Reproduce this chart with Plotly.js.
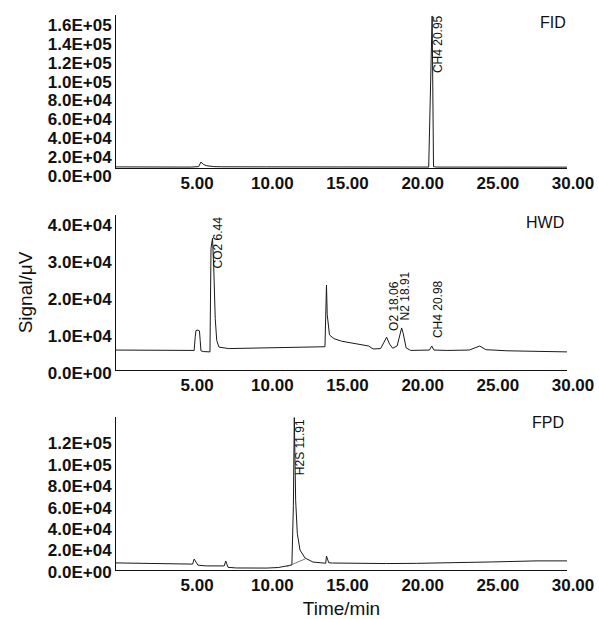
<!DOCTYPE html>
<html>
<head>
<meta charset="utf-8">
<script src="https://cdn.plot.ly/plotly-3.0.1.min.js"></script>
<style>html,body{margin:0;padding:0;background:#fff;}#chart{width:599px;height:619px;}</style>
</head>
<body>
<div id="chart"></div>
<script>
// ---- data ----
const fidTime   = [0, 1, 2, 3, 4, 5, 5.5, 5.65, 5.8, 6.0, 6.5, 7, 10, 13, 15, 18, 20, 20.6, 20.8, 21.03, 21.12, 21.3, 23, 26, 30];
const fidSignal = [1200, 1100, 1100, 1000, 1000, 1000, 1500, 6300, 4000, 2500, 1500, 1300, 1200, 1200, 1100, 1000, 1000, 1000, 1000, 161000, 1500, 1000, 1000, 900, 900];

const hwdTime   = [0, 2, 4, 5.2, 5.27, 5.32, 5.45, 5.55, 5.6, 5.65, 5.8, 6.1, 6.25, 6.32, 6.42, 6.5, 6.6, 6.7, 6.85, 7.5, 9, 11, 13, 13.9, 14.0, 14.05, 14.2, 14.5, 15, 16, 16.8, 17.1, 17.6, 17.8, 18.0, 18.2, 18.4, 18.7, 19.0, 19.1, 19.3, 19.6, 20.5, 20.85, 21.0, 21.15, 22, 23.5, 24.2, 24.6, 26, 28, 30];
const hwdSignal = [5400, 5400, 5400, 5300, 9000, 10700, 10800, 10600, 8000, 5200, 5000, 4800, 4900, 33000, 35700, 28000, 14000, 8000, 6200, 5800, 5900, 6000, 6200, 6300, 23000, 15000, 9500, 8500, 7800, 7000, 6500, 5700, 5800, 7300, 8900, 7000, 5900, 6500, 11400, 10000, 6000, 5300, 5300, 5400, 6500, 5400, 5300, 5400, 6500, 5500, 5200, 5000, 4900];

const fpdTime   = [0, 2, 4, 5.0, 5.1, 5.2, 5.45, 6, 6.8, 7.2, 7.3, 7.45, 8, 9, 10, 10.8, 11.3, 11.7, 11.8, 11.86, 11.95, 12.06, 12.24, 12.57, 13.1, 13.8, 13.95, 14.0, 14.15, 14.4, 16, 18, 20, 22, 25, 28, 30];
const fpdSignal = [6600, 6400, 6000, 5500, 5500, 10200, 4500, 3800, 3600, 3800, 8400, 2500, 1900, 1700, 1800, 2300, 3500, 4700, 60000, 142000, 65000, 34000, 18600, 11200, 7400, 6300, 6300, 13000, 6800, 6500, 6000, 6000, 6200, 6500, 7500, 8500, 8500];

// integration baseline drawn under the H2S peak
const fpdBaseTime   = [11.36, 12.57];
const fpdBaseSignal = [3100, 10200];

// ---- tick labels ----
const xTickVals = [5, 10, 15, 20, 25, 30];
const xTickText = ['5.00', '10.00', '15.00', '20.00', '25.00', '30.00'];
const fidTickVals = [0, 20000, 40000, 60000, 80000, 100000, 120000, 140000, 160000];
const fidTickText = ['0.0E+00', '2.0E+04', '4.0E+04', '6.0E+04', '8.0E+04', '1.0E+05', '1.2E+05', '1.4E+05', '1.6E+05'];
const hwdTickVals = [0, 10000, 20000, 30000, 40000];
const hwdTickText = ['0.0E+00', '1.0E+04', '2.0E+04', '3.0E+04', '4.0E+04'];
const fpdTickVals = [0, 20000, 40000, 60000, 80000, 100000, 120000];
const fpdTickText = ['0.0E+00', '2.0E+04', '4.0E+04', '6.0E+04', '8.0E+04', '1.0E+05', '1.2E+05'];

// peak labels
const peakLabels = [
  {text: 'CH4 20.95', x: 21.42, y: 98400, ax: 'x',  ay: 'y'},
  {text: 'CO2 6.44',  x: 6.79,  y: 27000, ax: 'x2', ay: 'y2'},
  {text: 'O2 18.06',  x: 18.48, y: 10000, ax: 'x2', ay: 'y2'},
  {text: 'N2 18.91',  x: 19.22, y: 13000, ax: 'x2', ay: 'y2'},
  {text: 'CH4 20.98', x: 21.42, y: 8100,  ax: 'x2', ay: 'y2'},
  {text: 'H2S 11.91', x: 12.24, y: 86500, ax: 'x3', ay: 'y3'}
];
const panelNames = [
  {text: 'FID', x: 0.969, y: 0.987},
  {text: 'HWD', x: 0.951, y: 0.627},
  {text: 'FPD', x: 0.958, y: 0.265}
];

const FONT = 'Liberation Sans, Arial, sans-serif';
const lineStyle = {color: '#1a1a1a', width: 1};

const traces = [
  {x: fidTime, y: fidSignal, xaxis: 'x', yaxis: 'y', type: 'scatter', mode: 'lines', line: lineStyle, name: 'FID'},
  {x: hwdTime, y: hwdSignal, xaxis: 'x2', yaxis: 'y2', type: 'scatter', mode: 'lines', line: lineStyle, name: 'HWD'},
  {x: fpdTime, y: fpdSignal, xaxis: 'x3', yaxis: 'y3', type: 'scatter', mode: 'lines', line: lineStyle, name: 'FPD'},
  {x: fpdBaseTime, y: fpdBaseSignal, xaxis: 'x3', yaxis: 'y3', type: 'scatter', mode: 'lines', line: {color: '#555', width: 0.8}, name: 'FPD baseline'}
];

function xAxis(anchor) {
  return {
    anchor: anchor, domain: [0, 1], range: [0, 30],
    showgrid: false, zeroline: false, showline: true, linecolor: '#111', linewidth: 1,
    ticks: '', tickvals: xTickVals, ticktext: xTickText,
    tickfont: {family: FONT, size: 17, color: '#111', weight: 'bold'},
    ticklabelshift: 6, fixedrange: true
  };
}
function yAxis(anchor, domain, range, vals, text, shift) {
  return {
    anchor: anchor, domain: domain, range: range,
    showgrid: false, zeroline: false, showline: true, linecolor: '#111', linewidth: 1,
    ticks: '', tickvals: vals, ticktext: text,
    tickfont: {family: FONT, size: 17, color: '#111', weight: 'bold'},
    ticklabelshift: shift, fixedrange: true
  };
}

const layout = {
  width: 599, height: 619,
  margin: {l: 116, r: 32, t: 15, b: 49},
  paper_bgcolor: '#fff', plot_bgcolor: '#fff',
  showlegend: false,
  font: {family: FONT, color: '#111'},
  xaxis: xAxis('y'),
  xaxis2: xAxis('y2'),
  xaxis3: Object.assign(xAxis('y3'), {title: {text: 'Time/min', font: {family: FONT, size: 19, color: '#111'}, standoff: 8}}),
  yaxis: yAxis('x', [0.7243, 1], [0, 162000], fidTickVals, fidTickText, 8),
  yaxis2: Object.assign(yAxis('x2', [0.3604, 0.6396], [0, 42000], hwdTickVals, hwdTickText, 3),
    {title: {text: 'Signal/μV', font: {family: FONT, size: 19, color: '#111'}, standoff: 10}}),
  yaxis3: yAxis('x3', [0, 0.2757], [0, 142500], fpdTickVals, fpdTickText, 2),
  annotations: peakLabels.map(p => ({
    text: p.text, x: p.x, y: p.y, xref: p.ax, yref: p.ay,
    textangle: -90, xanchor: 'center', yanchor: 'bottom', showarrow: false,
    font: {family: FONT, size: 12, color: '#111'}
  })).concat(panelNames.map(p => ({
    text: p.text, x: p.x, y: p.y, xref: 'paper', yref: 'paper',
    xanchor: 'center', yanchor: 'middle', showarrow: false,
    font: {family: FONT, size: 16, color: '#111'}
  })))
};

Plotly.newPlot('chart', traces, layout, {displayModeBar: false, staticPlot: true});
</script>
</body>
</html>
